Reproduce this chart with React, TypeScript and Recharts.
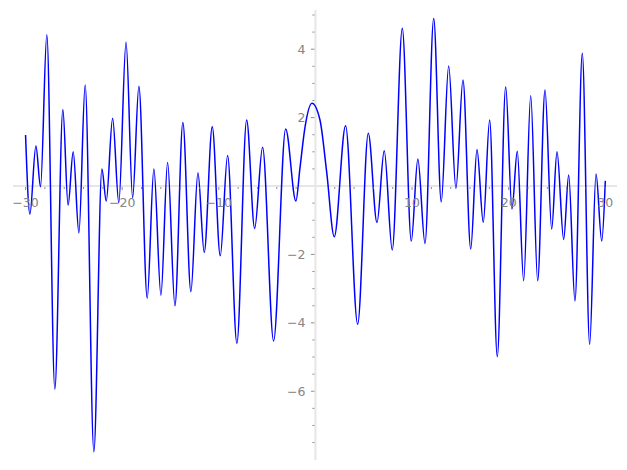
import React from 'react';
import { LineChart, Line, XAxis, YAxis, ReferenceLine, ReferenceDot } from 'recharts';

// curve: turning points plus a few shoulder points
const curveX = [
  -30.0, -29.55, -28.93, -28.45, -27.8, -26.97, -26.14, -25.6, -25.07, -24.48,
  -23.83, -22.93, -22.1, -21.65, -20.99, -20.35, -19.6, -18.92, -18.27, -17.41,
  -16.72, -15.99, -15.3, -14.54, -13.72, -12.89, -12.16, -11.51, -10.68, -9.85,
  -9.09, -8.13, -7.12, -6.29, -5.47, -4.33, -3.08, -2.02, -1.6, -1.09,
  -0.36, 0.47, 1.16, 1.95, 3.12, 4.37, 5.47, 6.37, 7.12, 7.95,
  8.99, 9.92, 10.6, 11.34, 12.24, 13.02, 13.79, 14.54, 15.27, 16.07,
  16.72, 17.37, 18.03, 18.82, 19.69, 20.34, 20.89, 21.55, 22.28, 23.0,
  23.76, 24.45, 25.0, 25.69, 26.21, 26.86, 27.62, 28.38, 29.04, 29.63,
  30.0,
];
const curveY = [
  1.49, -0.82, 1.17, -0.02, 4.42, -5.94, 2.24, -0.56, 1.0, -1.37,
  2.95, -7.77, 0.5, -0.44, 1.98, -0.49, 4.2, -0.34, 2.92, -3.28,
  0.5, -3.19, 0.69, -3.5, 1.86, -3.09, 0.39, -1.94, 1.73, -2.04,
  0.89, -4.6, 1.93, -1.24, 1.13, -4.53, 1.67, -0.44, 0.53, 1.7,
  2.42, 1.93, 0.42, -1.48, 1.76, -4.04, 1.54, -1.07, 1.03, -1.87,
  4.61, -1.61, 0.79, -1.68, 4.9, -0.46, 3.51, -0.07, 3.1, -1.84,
  1.07, -1.06, 1.93, -4.99, 2.9, -0.67, 1.02, -2.77, 2.64, -2.77,
  2.81, -1.26, 1.0, -1.56, 0.32, -3.36, 3.88, -4.63, 0.35, -1.61,
  0.15,
];

const xMajorTicks = [-30, -20, -10, 10, 20, 30];
const xMinorTicks = [
  -28, -26, -24, -22, -18, -16, -14, -12, -8, -6, -4, -2, 2, 4, 6, 8,
  12, 14, 16, 18, 22, 24, 26, 28,
];
const yMajorTicks = [-6, -4, -2, 2, 4];
const yMinorTicks = [
  -7.5, -7, -6.5, -5.5, -5, -4.5, -3.5, -3, -2.5, -1.5, -1, -0.5,
  0.5, 1, 1.5, 2.5, 3, 3.5, 4.5, 5,
];

const data = curveX.map((x, i) => ({ x, y: curveY[i] }));

const axisColor = '#e6e6e6';
const tickColor = '#707070';
const labelColor = '#858585';
const fontFamily = '"DejaVu Sans", sans-serif';

const fmt = (v: number) => (v < 0 ? `\u2212${Math.abs(v)}` : `${v}`);

const App: React.FC = () => {
  return (
    <div style={{ position: 'absolute', left: 0, top: 0, width: 627, height: 470, background: '#fff' }}>
      <LineChart width={627} height={470} data={data} margin={{ top: 10, right: 10, bottom: 10, left: 13 }}>
        <XAxis dataKey="x" type="number" domain={[-31.3, 31.21]} allowDataOverflow hide />
        <YAxis type="number" domain={[-8.01, 5.146]} allowDataOverflow hide />
        <ReferenceLine y={0} stroke={axisColor} strokeWidth={2} />
        <ReferenceLine x={0} stroke={axisColor} strokeWidth={2} />
        <Line
          type="monotone"
          dataKey="y"
          stroke="#0000ff"
          strokeWidth={1.5}
          dot={false}
          isAnimationActive={false}
        />
        {xMinorTicks.map((t) => (
          <ReferenceDot
            key={`xm-${t}`}
            x={t}
            y={0}
            shape={(p: any) => (
              <line x1={p.cx} x2={p.cx} y1={p.cy + 1} y2={p.cy + 3} stroke={tickColor} strokeWidth={0.8} />
            )}
          />
        ))}
        {xMajorTicks.map((t) => (
          <ReferenceDot
            key={`xM-${t}`}
            x={t}
            y={0}
            shape={(p: any) => (
              <g>
                <line x1={p.cx} x2={p.cx} y1={p.cy + 1} y2={p.cy + 4} stroke={tickColor} strokeWidth={0.8} />
                <text x={p.cx} y={p.cy + 21} textAnchor="middle" fill={labelColor} fontSize={12.5} fontFamily={fontFamily}>
                  {fmt(t)}
                </text>
              </g>
            )}
          />
        ))}
        {yMinorTicks.map((t) => (
          <ReferenceDot
            key={`ym-${t}`}
            x={0}
            y={t}
            shape={(p: any) => (
              <line x1={p.cx - 3} x2={p.cx - 1} y1={p.cy} y2={p.cy} stroke={tickColor} strokeWidth={0.8} />
            )}
          />
        ))}
        {yMajorTicks.map((t) => (
          <ReferenceDot
            key={`yM-${t}`}
            x={0}
            y={t}
            shape={(p: any) => (
              <g>
                <line x1={p.cx - 4.5} x2={p.cx - 1} y1={p.cy} y2={p.cy} stroke={tickColor} strokeWidth={0.8} />
                <text x={p.cx - 10} y={p.cy} textAnchor="end" dominantBaseline="central" fill={labelColor} fontSize={12.5} fontFamily={fontFamily}>
                  {fmt(t)}
                </text>
              </g>
            )}
          />
        ))}
      </LineChart>
    </div>
  );
};

export default App;
